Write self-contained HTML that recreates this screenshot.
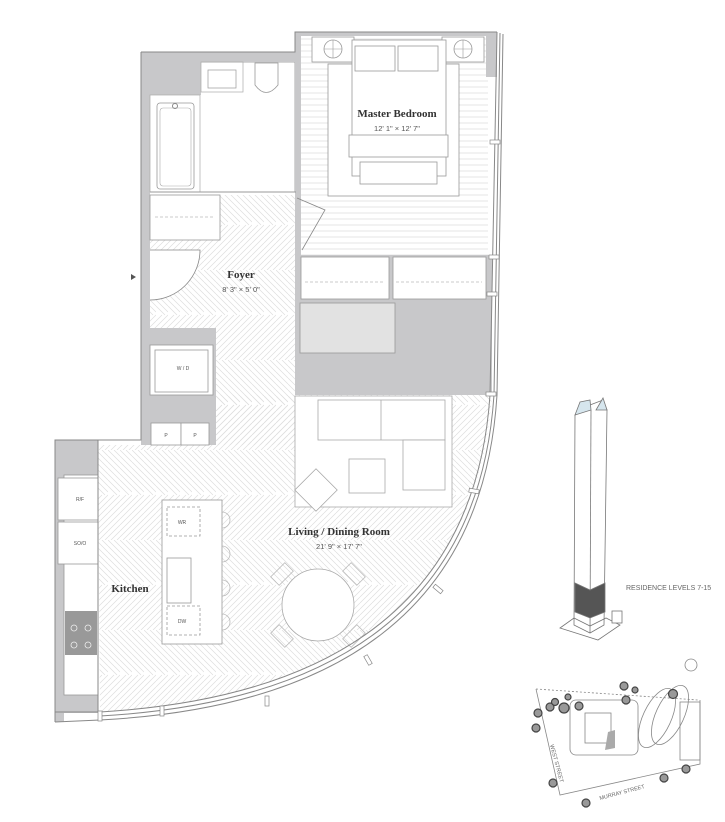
<!DOCTYPE html>
<html><head><meta charset="utf-8"><style>
html,body{margin:0;padding:0;background:#fff;}
svg{display:block;}
.s{font-family:"Liberation Serif",serif;fill:#333;text-anchor:middle;}
.d{font-family:"Liberation Sans",sans-serif;fill:#555;text-anchor:middle;}
</style></head><body>
<svg width="725" height="822" viewBox="0 0 725 822" xmlns="http://www.w3.org/2000/svg">
<defs>
<pattern id="hb" width="12" height="90" patternUnits="userSpaceOnUse">
<g stroke="#dedede" stroke-width="0.7">
<line x1="0" y1="0" x2="12" y2="12"/><line x1="0" y1="12" x2="12" y2="24"/><line x1="0" y1="24" x2="12" y2="36"/><line x1="0" y1="36" x2="9" y2="45"/><line x1="6" y1="0" x2="12" y2="6"/><line x1="6" y1="12" x2="12" y2="18"/><line x1="6" y1="24" x2="12" y2="30"/><line x1="6" y1="36" x2="12" y2="42"/><line x1="0" y1="6" x2="6" y2="12"/><line x1="0" y1="18" x2="6" y2="24"/><line x1="0" y1="30" x2="6" y2="36"/>
<line x1="12" y1="45" x2="0" y2="57"/><line x1="12" y1="57" x2="0" y2="69"/><line x1="12" y1="69" x2="0" y2="81"/><line x1="12" y1="81" x2="3" y2="90"/><line x1="6" y1="45" x2="0" y2="51"/><line x1="6" y1="57" x2="0" y2="63"/><line x1="6" y1="69" x2="0" y2="75"/><line x1="6" y1="81" x2="0" y2="87"/><line x1="12" y1="51" x2="6" y2="57"/><line x1="12" y1="63" x2="6" y2="69"/><line x1="12" y1="75" x2="6" y2="81"/><line x1="12" y1="87" x2="9" y2="90"/>
</g></pattern>
<pattern id="hz" width="10" height="6" patternUnits="userSpaceOnUse"><line x1="0" y1="3" x2="10" y2="3" stroke="#dcdcdc" stroke-width="0.7"/></pattern>
</defs>

<!-- floors -->
<rect x="150" y="195" width="146" height="250" fill="url(#hb)"/>
<path d="M98 445 L215 445 L215 395 L492 395 Q470 690 100 712 Z" fill="url(#hb)"/>
<rect x="300" y="35" width="188" height="222" fill="url(#hz)"/>

<!-- bathroom -->
<rect x="150" y="62" width="145" height="130" fill="#fff" stroke="#999" stroke-width="0.8"/>

<!-- gray walls -->
<g fill="#c8c8ca">
<rect x="141" y="52" width="9" height="390"/>
<rect x="141" y="52" width="60" height="43"/>
<rect x="141" y="52" width="155" height="10"/>
<rect x="295" y="32" width="6" height="225"/>
<rect x="141" y="328" width="75" height="117"/>
<rect x="55" y="440" width="43" height="35"/>
<rect x="55" y="440" width="9" height="282"/>
<rect x="55" y="695" width="43" height="18"/>
<rect x="295" y="255" width="197" height="140"/>
<rect x="486" y="32" width="11" height="45"/>
<rect x="295" y="32" width="202" height="4"/>
</g>
<g fill="#fff" stroke="#999" stroke-width="0.8">
<rect x="150" y="345" width="63" height="50"/>
<rect x="155" y="350" width="53" height="42"/>
<rect x="151" y="423" width="30" height="22"/><rect x="181" y="423" width="28" height="22"/>
<rect x="301" y="257" width="88" height="42"/><rect x="393" y="257" width="93" height="42"/>
</g>
<rect x="300" y="303" width="95" height="50" fill="#e2e2e2" stroke="#999" stroke-width="0.8"/>
<g stroke="#bbb" stroke-dasharray="3,2" stroke-width="0.7"><line x1="305" y1="282" x2="385" y2="282"/><line x1="396" y1="282" x2="482" y2="282"/></g>
<text x="183" y="370" class="d" font-size="5">W / D</text>
<text x="166" y="437" class="d" font-size="5">P</text><text x="195" y="437" class="d" font-size="5">P</text>

<rect x="150" y="95" width="50" height="97" fill="#fff" stroke="#aaa" stroke-width="0.7"/>
<rect x="157" y="103" width="37" height="86" rx="3" fill="none" stroke="#999" stroke-width="0.8"/>
<rect x="160" y="108" width="31" height="78" rx="3" fill="none" stroke="#aaa" stroke-width="0.6"/>
<circle cx="175" cy="106" r="2.5" fill="none" stroke="#888"/>
<rect x="201" y="62" width="42" height="30" fill="none" stroke="#aaa" stroke-width="0.7"/>
<rect x="208" y="70" width="28" height="18" fill="none" stroke="#999" stroke-width="0.7"/>
<path d="M255 63 L278 63 L278 85 Q266 100 255 85 Z" fill="#fff" stroke="#999" stroke-width="0.8"/>
<rect x="150" y="195" width="70" height="45" fill="#fff" stroke="#999" stroke-width="0.8"/>
<line x1="155" y1="217" x2="215" y2="217" stroke="#bbb" stroke-dasharray="3,2" stroke-width="0.7"/>
<line x1="150" y1="192" x2="296" y2="192" stroke="#999"/>
<path d="M150 250 L200 250 A50 50 0 0 1 150 300" fill="#fff" stroke="#888" stroke-width="0.8"/>
<polygon points="131,274 136,277 131,280" fill="#555"/>
<path d="M297 198 L325 210 L302 250" fill="none" stroke="#888" stroke-width="0.8"/>

<!-- bed -->
<g fill="#fff" stroke="#999" stroke-width="0.8">
<rect x="312" y="37" width="42" height="25"/><rect x="442" y="37" width="42" height="25"/>
<circle cx="333" cy="49" r="9"/><circle cx="463" cy="49" r="9"/>
<rect x="328" y="64" width="131" height="132"/>
<rect x="352" y="40" width="94" height="136"/>
<rect x="355" y="46" width="40" height="25"/><rect x="398" y="46" width="40" height="25"/>
<rect x="349" y="135" width="99" height="22"/>
<rect x="360" y="162" width="77" height="22"/>
</g>
<line x1="333" y1="40" x2="333" y2="58" stroke="#999" stroke-width="0.6"/><line x1="324" y1="49" x2="342" y2="49" stroke="#999" stroke-width="0.6"/>
<line x1="463" y1="40" x2="463" y2="58" stroke="#999" stroke-width="0.6"/><line x1="454" y1="49" x2="472" y2="49" stroke="#999" stroke-width="0.6"/>
<text x="397" y="117" class="s" font-size="11" font-weight="bold">Master Bedroom</text>
<text x="397" y="131" class="d" font-size="7.5">12' 1" × 12' 7"</text>

<text x="241" y="278" class="s" font-size="11" font-weight="bold">Foyer</text>
<text x="241" y="292" class="d" font-size="7.5">8' 3" × 5' 0"</text>

<!-- living furniture -->
<g fill="#fff" stroke="#aaa" stroke-width="0.8">
<rect x="295" y="396" width="157" height="111"/>
<rect x="318" y="400" width="127" height="40"/>
<rect x="403" y="440" width="42" height="50"/>
<rect x="349" y="459" width="36" height="34"/>
<rect x="301" y="475" width="30" height="30" transform="rotate(45 316 490)"/>
</g>
<line x1="381" y1="400" x2="381" y2="440" stroke="#aaa" stroke-width="0.8"/>

<!-- kitchen -->
<g fill="#fff" stroke="#999" stroke-width="0.8">
<rect x="64" y="475" width="34" height="220"/>
<rect x="58" y="478" width="40" height="42"/>
<rect x="58" y="522" width="40" height="42"/>
<rect x="162" y="500" width="60" height="144"/>
<rect x="167" y="558" width="24" height="45"/>
</g>
<rect x="65" y="611" width="32" height="44" fill="#999"/>
<g fill="none" stroke="#eee" stroke-width="0.8"><circle cx="74" cy="628" r="3"/><circle cx="88" cy="628" r="3"/><circle cx="74" cy="645" r="3"/><circle cx="88" cy="645" r="3"/></g>
<g fill="none" stroke="#999" stroke-dasharray="3,2" stroke-width="0.8"><rect x="167" y="507" width="33" height="29"/><rect x="167" y="606" width="33" height="29"/></g>
<g fill="none" stroke="#bbb" stroke-width="0.8"><path d="M222 512 a8 8 0 0 1 0 16"/><path d="M222 546 a8 8 0 0 1 0 16"/><path d="M222 580 a8 8 0 0 1 0 16"/><path d="M222 614 a8 8 0 0 1 0 16"/>
<rect x="272" y="568" width="20" height="12" transform="rotate(-45 282 574)"/><rect x="344" y="568" width="20" height="12" transform="rotate(45 354 574)"/><rect x="272" y="630" width="20" height="12" transform="rotate(45 282 636)"/><rect x="344" y="630" width="20" height="12" transform="rotate(-45 354 636)"/></g>
<circle cx="318" cy="605" r="36" fill="#fff" stroke="#aaa" stroke-width="0.8"/>
<text x="80" y="501" class="d" font-size="5">R/F</text><text x="80" y="545" class="d" font-size="5">SO/O</text>
<text x="182" y="524" class="d" font-size="5">WR</text><text x="182" y="623" class="d" font-size="5">DW</text>
<text x="130" y="592" class="s" font-size="11" font-weight="bold">Kitchen</text>
<text x="339" y="535" class="s" font-size="11" font-weight="bold">Living / Dining Room</text>
<text x="339" y="549" class="d" font-size="7.5">21' 9" × 17' 7"</text>

<g fill="none" stroke="#888" stroke-width="1">
<path d="M141 52 L295 52 L295 32 L497 32"/>
<path d="M141 52 L141 440 L55 440 L55 722"/>
<path d="M98 440 L98 712"/>
<path d="M497 32 L490 395 Q470 690 100 712 L55 712"/>
<path d="M503 34 L497 395 Q478 700 100 720 L55 722"/>
<path d="M500 33 L494 395 Q474 695 100 716"/>
</g>
<g fill="#fff" stroke="#888" stroke-width="0.7">
<rect x="490" y="140" width="10" height="4"/><rect x="489" y="255" width="10" height="4"/><rect x="487" y="292" width="10" height="4"/><rect x="486" y="392" width="10" height="4"/>
<rect x="469" y="489" width="10" height="4" transform="rotate(10 474 491)"/><rect x="433" y="587" width="10" height="4" transform="rotate(40 438 589)"/><rect x="363" y="658" width="10" height="4" transform="rotate(60 368 660)"/><rect x="265" y="696" width="4" height="10"/><rect x="160" y="706" width="4" height="10"/><rect x="98" y="711" width="4" height="10"/>
</g>

<!-- tower -->
<g stroke="#777" stroke-width="0.8">
<path d="M575 415 L590 405 L603 400 L607 410 L604 625 L590 633 L574 625 Z" fill="#fff"/>
<path d="M575 415 L580 402 L590 400 L591 410 Z" fill="#d6e6ee"/>
<path d="M596 410 L603 398 L607 410 Z" fill="#d6e6ee"/>
<line x1="591" y1="410" x2="590" y2="633"/>
<path d="M575 583 L590 590 L605 583 L605 612 L590 618 L575 612 Z" fill="#555"/>
<path d="M560 628 L574 618 L590 626 L606 618 L620 625 L598 640 Z" fill="none"/>
<rect x="612" y="611" width="10" height="12" fill="#fff"/>
</g>
<text x="626" y="590" font-family="Liberation Sans,sans-serif" font-size="7" fill="#666">RESIDENCE LEVELS 7-15</text>

<!-- site plan -->
<g fill="none" stroke="#888" stroke-width="0.8">
<circle cx="691" cy="665" r="6"/>
<path d="M536 689 L698 700" stroke-dasharray="2,2"/>
<path d="M536 689 L560 795 L700 764 L700 700"/>
<rect x="570" y="700" width="68" height="55" rx="6"/>
<rect x="585" y="713" width="26" height="30"/>
<ellipse cx="657" cy="718" rx="14" ry="32" transform="rotate(25 657 718)"/>
<ellipse cx="670" cy="715" rx="14" ry="32" transform="rotate(25 670 715)"/>
<rect x="680" y="702" width="20" height="58"/>
</g>
<polygon points="608,732 615,730 615,748 605,750" fill="#aaa"/>
<g fill="#999" stroke="#444" stroke-width="1.2">
<circle cx="538" cy="713" r="4"/><circle cx="550" cy="707" r="4"/><circle cx="555" cy="702" r="3.5"/><circle cx="568" cy="697" r="3"/><circle cx="564" cy="708" r="5"/><circle cx="579" cy="706" r="4"/><circle cx="536" cy="728" r="4"/><circle cx="624" cy="686" r="4"/><circle cx="635" cy="690" r="3"/><circle cx="626" cy="700" r="4"/><circle cx="673" cy="694" r="4.5"/><circle cx="553" cy="783" r="4"/><circle cx="586" cy="803" r="4"/><circle cx="664" cy="778" r="4"/><circle cx="686" cy="769" r="4"/>
</g>
<text x="550" y="745" font-family="Liberation Sans,sans-serif" font-size="5.5" fill="#666" transform="rotate(75 550 745)">WEST STREET</text>
<text x="600" y="800" font-family="Liberation Sans,sans-serif" font-size="5.5" fill="#666" transform="rotate(-15 600 800)">MURRAY STREET</text>
</svg>
</body></html>
